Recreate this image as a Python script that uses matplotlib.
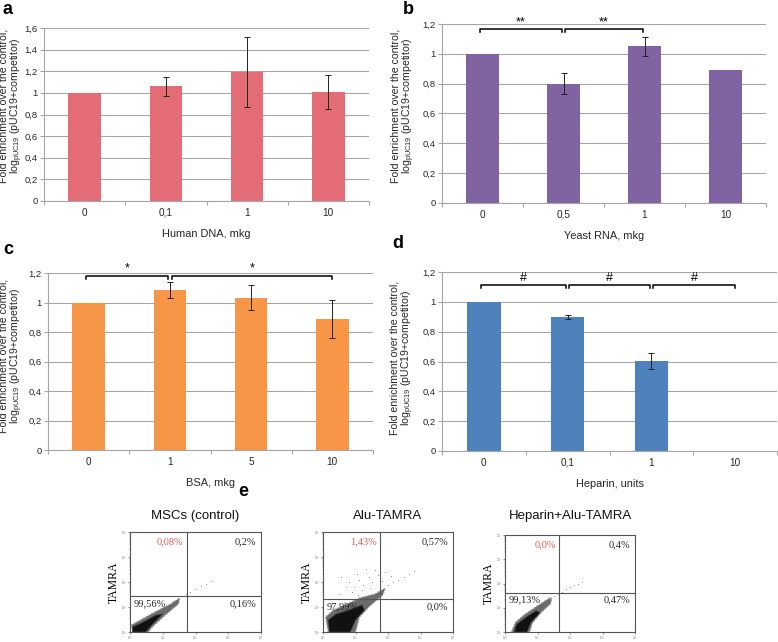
import numpy as np
import matplotlib
matplotlib.use("Agg")
import matplotlib.pyplot as plt
from matplotlib.patches import Polygon

plt.rcParams['font.family'] = ['Liberation Sans', 'DejaVu Sans']
plt.rcParams['mathtext.fontset'] = 'custom'
plt.rcParams['mathtext.rm'] = 'Liberation Sans'
plt.rcParams['mathtext.it'] = 'Liberation Sans'

# ---- data: bar panels ----
cats_a = ["0", "0,1", "1", "10"]
vals_a = [1.0, 1.06, 1.19, 1.01]
errs_a = [0.0, 0.085, 0.325, 0.155]

cats_b = ["0", "0,5", "1", "10"]
vals_b = [1.0, 0.80, 1.05, 0.89]
errs_b = [0.0, 0.072, 0.062, 0.0]
brk_b = [(0, 1, 1.165, "**"), (1, 2, 1.165, "**")]

cats_c = ["0", "1", "5", "10"]
vals_c = [1.0, 1.085, 1.033, 0.89]
errs_c = [0.0, 0.055, 0.083, 0.13]
brk_c = [(0, 1, 1.18, "*"), (1, 3, 1.18, "*")]

cats_d = ["0", "0,1", "1", "10"]
vals_d = [1.0, 0.90, 0.603, 0.003]
errs_d = [0.0, 0.012, 0.055, 0.0]
brk_d = [(0, 1, 1.115, "#"), (1, 2, 1.115, "#"), (2, 3, 1.115, "#")]

# ---- data: flow cytometry panels (log decades 0..4) ----
flow_titles = ["MSCs (control)", "Alu-TAMRA", "Heparin+Alu-TAMRA"]
flow_gates = [(1.74, 1.44), (1.75, 1.32), (1.66, 1.62)]
flow_pct = [["0,08%", "0,2%", "99,56%", "0,16%"],
            ["1,43%", "0,57%", "97,99%", "0,0%"],
            ["0,0%", "0,4%", "99,13%", "0,47%"]]
# outlines of the dense cell clouds (axes fraction)
cloud_1 = [(0.02, 0.0), (0.01, 0.07), (0.08, 0.12), (0.19, 0.20), (0.31, 0.28), (0.38, 0.34),
           (0.37, 0.28), (0.27, 0.17), (0.17, 0.05), (0.14, 0.0)]
core_1 = [(0.02, 0.0), (0.02, 0.05), (0.10, 0.10), (0.20, 0.17), (0.25, 0.18), (0.18, 0.09),
          (0.12, 0.0)]
cloud_2 = [(0.04, 0.0), (0.02, 0.15), (0.08, 0.22), (0.17, 0.27), (0.28, 0.34), (0.40, 0.38),
           (0.48, 0.44), (0.46, 0.37), (0.36, 0.26), (0.28, 0.15), (0.25, 0.0)]
core_2 = [(0.05, 0.0), (0.04, 0.12), (0.10, 0.18), (0.20, 0.22), (0.30, 0.27), (0.32, 0.22),
          (0.25, 0.12), (0.21, 0.0)]
cloud_3 = [(0.05, 0.0), (0.08, 0.10), (0.15, 0.18), (0.25, 0.27), (0.33, 0.34), (0.36, 0.35),
           (0.35, 0.29), (0.27, 0.19), (0.21, 0.09), (0.19, 0.0)]
core_3 = [(0.07, 0.0), (0.09, 0.08), (0.16, 0.15), (0.24, 0.22), (0.27, 0.20), (0.20, 0.10),
          (0.17, 0.0)]
# sparse events (axes fraction)
dots_1 = [(0.40, 0.36), (0.43, 0.38), (0.46, 0.40), (0.50, 0.43), (0.54, 0.46), (0.58, 0.48),
          (0.62, 0.51), (0.36, 0.33), (0.33, 0.31)]
dots_2 = [(0.14, 0.55), (0.20, 0.50), (0.24, 0.45), (0.28, 0.52), (0.31, 0.47), (0.35, 0.55),
          (0.38, 0.50), (0.42, 0.57), (0.45, 0.51), (0.22, 0.40), (0.30, 0.42), (0.36, 0.44),
          (0.26, 0.58), (0.40, 0.62), (0.18, 0.45), (0.50, 0.47), (0.54, 0.50), (0.58, 0.52),
          (0.62, 0.55), (0.66, 0.58), (0.70, 0.61), (0.52, 0.56), (0.33, 0.63), (0.12, 0.38),
          (0.44, 0.46), (0.48, 0.60), (0.27, 0.37), (0.16, 0.30)]
dots_3 = [(0.38, 0.37), (0.41, 0.39), (0.44, 0.41), (0.47, 0.44), (0.50, 0.46), (0.53, 0.48),
          (0.56, 0.50), (0.59, 0.52), (0.34, 0.36), (0.31, 0.32)]

GRID = "#a6a6a6"
TXT = "#262626"
YLAB = "Fold enrichment over the control,\nlog$_{\\mathrm{pUC19}}$ (pUC19+competitor)"

fig = plt.figure(figsize=(7.78, 6.42), dpi=100)
W, H = 778.0, 642.0


def px_axes(l, t, r, b):
    return fig.add_axes([l / W, 1 - b / H, (r - l) / W, (b - t) / H])


def fmt(v):
    s = ("%.1f" % v).replace(".", ",")
    return s[:-2] if s.endswith(",0") else s


def bar_panel(ax, cats, vals, errs, color, ymax, xlabel, brackets=()):
    x = np.arange(len(cats))
    ax.bar(x, vals, width=0.4, color=color, zorder=2)
    e = np.array(errs)
    m = e > 0
    ax.errorbar(x[m], np.array(vals)[m], yerr=e[m], fmt="none", ecolor="#222222",
                elinewidth=0.7, capsize=2, capthick=0.7, zorder=3)
    ax.set_xlim(-0.5, len(cats) - 0.5)
    ax.set_ylim(0, ymax)
    yt = np.arange(0, ymax + 0.001, 0.2)
    ax.set_yticks(yt)
    ax.set_yticklabels([fmt(v) for v in yt], fontsize=6.8, color=TXT)
    ax.yaxis.grid(True, color=GRID, lw=0.8, zorder=0)
    ax.set_axisbelow(True)
    ax.set_xticks(np.arange(-0.5, len(cats), 1))
    ax.set_xticklabels([])
    ax.set_xticks(x, minor=True)
    ax.set_xticklabels(cats, minor=True, fontsize=7.2, color=TXT)
    ax.tick_params(axis="x", which="major", length=3, color=GRID)
    ax.tick_params(axis="x", which="minor", length=0, pad=5)
    ax.tick_params(axis="y", length=3, color=GRID, pad=1.5)
    for s in ["top", "right"]:
        ax.spines[s].set_visible(False)
    for s in ["left", "bottom"]:
        ax.spines[s].set_color(GRID)
        ax.spines[s].set_linewidth(0.8)
    ax.set_xlabel(xlabel, fontsize=7.9, color=TXT, labelpad=8)
    for i, j, y, lab in brackets:
        x0 = i + 0.02 if i > 0 else i - 0.03
        x1 = j - 0.02 if j < len(cats) - 1 else j
        h = 0.02 * ymax / 1.2
        ax.plot([x0, x0, x1, x1], [y - h, y, y, y - h], color="black", lw=1.1,
                clip_on=False, zorder=4)
        ax.text((x0 + x1) / 2, y + 0.006 * ymax, lab, ha="center", va="bottom",
                fontsize=9, clip_on=False)


def ylab(xr, yc):
    # xr: right edge of the two-line rotated label, in pixels
    fig.text(xr / W, 1 - yc / H, YLAB, rotation=90, fontsize=7.6, color=TXT,
             ha="right", va="center", multialignment="center", linespacing=1.0)


ax_a = px_axes(44, 28, 369, 201)
bar_panel(ax_a, cats_a, vals_a, errs_a, "#e46c76", 1.6, "Human DNA, mkg")
ylab(25, 106)
ax_b = px_axes(442, 24, 766, 203)
bar_panel(ax_b, cats_b, vals_b, errs_b, "#8064a2", 1.2, "Yeast RNA, mkg", brk_b)
ylab(417, 106)
ax_c = px_axes(48, 273, 373, 450)
bar_panel(ax_c, cats_c, vals_c, errs_c, "#f79646", 1.2, "BSA, mkg", brk_c)
ylab(25, 356)
ax_d = px_axes(442, 272, 777, 451)
bar_panel(ax_d, cats_d, vals_d, errs_d, "#4f81bd", 1.2, "Heparin, units", brk_d)
ylab(416, 358)

for lab, (xx, yy) in zip("abcde", [(8, 10), (408, 9), (8, 250), (398, 243), (243, 492)]):
    fig.text(xx / W, 1 - yy / H, lab, fontsize=13, fontweight="bold", ha="center", va="center")

# ---- flow cytometry ----
boxes = [(130, 532, 261, 632), (323, 532, 453, 632), (505, 535, 635, 632)]
clouds = [cloud_1, cloud_2, cloud_3]
cores = [core_1, core_2, core_3]
dots = [dots_1, dots_2, dots_3]
minor_pos = np.log10(np.concatenate([np.arange(2, 10) * 10 ** d for d in range(4)]))
for k in range(3):
    l, t, r, b = boxes[k]
    ax = px_axes(l, t, r, b)
    ax.set_xlim(0, 4)
    ax.set_ylim(0, 4)
    for s in ax.spines.values():
        s.set_color("#555555")
        s.set_linewidth(0.8)
    ax.set_xticks(range(5))
    ax.set_yticks(range(5))
    ax.set_xticklabels(["10$^%d$" % i for i in range(5)], fontsize=2, color="#777777")
    ax.set_yticklabels(["10$^%d$" % i for i in range(5)], fontsize=2, color="#777777")
    ax.tick_params(length=1.5, width=0.5, pad=0.3, color="#666666")
    ax.set_xticks(minor_pos, minor=True)
    ax.set_yticks(minor_pos, minor=True)
    ax.tick_params(which="minor", length=0.8, width=0.3, color="#888888")
    gx, gy = flow_gates[k]
    ax.axvline(gx, color="#555555", lw=0.8)
    ax.axhline(gy, color="#555555", lw=0.8)
    ax.add_patch(Polygon([(4 * a, 4 * c) for a, c in clouds[k]], closed=True,
                         facecolor="#3a3a3a", edgecolor="#9a9a9a", lw=1.2, alpha=0.75,
                         linestyle=(0, (1, 1))))
    ax.add_patch(Polygon([(4 * a, 4 * c) for a, c in cores[k]], closed=True,
                         facecolor="#111111", edgecolor="#444444", lw=0.8, linestyle=(0, (1, 1))))
    dx, dy = zip(*dots[k])
    ax.scatter(np.array(dx) * 4, np.array(dy) * 4, s=0.6, color="#888888", lw=0)
    p = flow_pct[k]
    ax.text(gx - 0.1, 3.8, p[0], color="#e05a5a", fontsize=7.5, family="Liberation Serif",
            ha="right", va="top")
    ax.text(3.85, 3.8, p[1], color=TXT, fontsize=7.5, family="Liberation Serif",
            ha="right", va="top")
    ax.text(0.1, gy - 0.12, p[2], color=TXT, fontsize=7.5, family="Liberation Serif",
            ha="left", va="top")
    ax.text(3.85, gy - 0.12, p[3], color=TXT, fontsize=7.5, family="Liberation Serif",
            ha="right", va="top")
    ax.set_ylabel("TAMRA", family="Liberation Serif", fontsize=8.5, labelpad=1)
    fig.text(((l + r) / 2) / W, 1 - 516 / H, flow_titles[k], fontsize=9.5, ha="center",
             va="center", color="#111111")

fig.savefig("out.png", dpi=100)
